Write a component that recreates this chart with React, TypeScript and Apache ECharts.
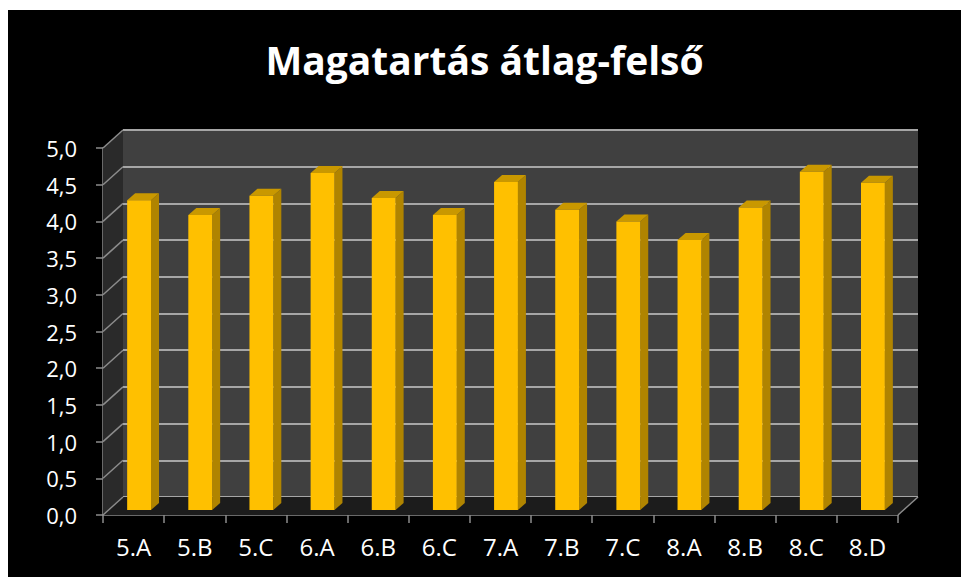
import React, { useEffect, useRef } from "react";
import * as echarts from "echarts";

const TITLE = "Magatartás átlag-felső";
const categories = ["5.A", "5.B", "5.C", "6.A", "6.B", "6.C", "7.A", "7.B", "7.C", "8.A", "8.B", "8.C", "8.D"];
const values = [4.22, 4.02, 4.28, 4.59, 4.25, 4.02, 4.47, 4.09, 3.93, 3.68, 4.12, 4.61, 4.46];
const yTicks = [0, 0.5, 1, 1.5, 2, 2.5, 3, 3.5, 4, 4.5, 5];

const Y_MIN = yTicks[0];
const Y_MAX = yTicks[yTicks.length - 1];
const Y_STEP = yTicks[1] - yTicks[0];

// 3D look parameters (pixels)
const DX = 20; // depth offset of back wall
const DY = -18;
const OX = 5.5; // bar front plane offset
const OY = -5;
const BDX = 8; // bar depth
const BDY = -7;
const BAR_RATIO = 0.39;

const FONT = "Open Sans";
const AXIS_COLOR = "#8c8c8c";

export default function App() {
  const ref = useRef<HTMLDivElement>(null);

  useEffect(() => {
    if (!ref.current) return;
    const chart = echarts.init(ref.current, undefined, { renderer: "svg" });

    const option: any = {
      animation: false,
      backgroundColor: "#000000",
      title: {
        text: TITLE,
        left: "center",
        top: 25,
        textStyle: { color: "#ffffff", fontSize: 39, fontWeight: "bold", fontFamily: FONT },
      },
      grid: [
        { left: 115, top: 120, width: 795, height: 367, show: true, backgroundColor: "#404040", borderWidth: 0 },
        { left: 95, top: 138, width: 795, height: 367 },
      ],
      xAxis: [
        { gridIndex: 0, type: "category", data: categories, show: false },
        {
          gridIndex: 1,
          type: "category",
          data: categories,
          axisLine: { show: true, lineStyle: { color: AXIS_COLOR, width: 1.5 } },
          axisTick: { show: true, length: 8, interval: 0, lineStyle: { color: AXIS_COLOR, width: 1.5 } },
          axisLabel: { color: "#ffffff", fontSize: 24, margin: 19, interval: 0, fontFamily: FONT },
          splitLine: { show: false },
        },
      ],
      yAxis: [
        {
          gridIndex: 0,
          type: "value",
          min: Y_MIN,
          max: Y_MAX,
          interval: Y_STEP,
          axisLine: { show: false },
          axisTick: { show: false },
          axisLabel: { show: false },
          splitLine: { show: true, lineStyle: { color: "#a6a6a6", width: 2 } },
        },
        {
          gridIndex: 1,
          type: "value",
          min: Y_MIN,
          max: Y_MAX,
          interval: Y_STEP,
          axisLine: { show: true, lineStyle: { color: AXIS_COLOR, width: 1.5 } },
          axisTick: { show: true, length: 7, lineStyle: { color: AXIS_COLOR, width: 1.5 } },
          axisLabel: {
            color: "#ffffff",
            fontSize: 22,
            margin: 26,
            fontFamily: FONT,
            formatter: (v: number) => v.toFixed(1).replace(".", ","),
          },
          splitLine: { show: false },
        },
      ],
      series: [
        {
          type: "custom",
          name: "walls",
          xAxisIndex: 1,
          yAxisIndex: 1,
          silent: true,
          z: 1,
          data: [[0, 0]],
          renderItem: (params: any, api: any) => {
            const cs = params.coordSys;
            const x0 = cs.x;
            const y0 = cs.y;
            const w = cs.width;
            const h = cs.height;
            const children: any[] = [
              {
                type: "polygon",
                shape: { points: [[x0, y0], [x0 + DX, y0 + DY], [x0 + DX, y0 + h + DY], [x0, y0 + h]] },
                style: { fill: "#2a2a2a" },
              },
              {
                type: "polygon",
                shape: { points: [[x0, y0 + h], [x0 + w, y0 + h], [x0 + w + DX, y0 + h + DY], [x0 + DX, y0 + h + DY]] },
                style: { fill: "#1c1c1c" },
              },
              {
                type: "line",
                shape: { x1: x0 + w, y1: y0 + h, x2: x0 + w + DX, y2: y0 + h + DY },
                style: { stroke: AXIS_COLOR, lineWidth: 1.5 },
              },
            ];
            yTicks.forEach((t) => {
              const yy = api.coord([0, t])[1];
              children.push({
                type: "line",
                shape: { x1: x0, y1: yy, x2: x0 + DX, y2: yy + DY },
                style: { stroke: AXIS_COLOR, lineWidth: 1.5 },
              });
            });
            return { type: "group", children };
          },
        },
        {
          type: "custom",
          name: "Magatartás",
          xAxisIndex: 1,
          yAxisIndex: 1,
          z: 3,
          encode: { x: 0, y: 1 },
          data: values.map((v, i) => [i, v]),
          renderItem: (params: any, api: any) => {
            const idx = api.value(0);
            const val = api.value(1);
            const top = api.coord([idx, val]);
            const bottom = api.coord([idx, 0]);
            const band = api.size([1, 0])[0];
            const bw = band * BAR_RATIO;
            const xl = top[0] + OX - bw / 2;
            const xr = top[0] + OX + bw / 2;
            const yt = top[1] + OY;
            const yb = bottom[1] + OY;
            return {
              type: "group",
              children: [
                {
                  type: "polygon",
                  shape: { points: [[xr, yt], [xr + BDX, yt + BDY], [xr + BDX, yb + BDY], [xr, yb]] },
                  style: { fill: "#b08400" },
                },
                {
                  type: "polygon",
                  shape: { points: [[xl, yt], [xr, yt], [xr + BDX, yt + BDY], [xl + BDX, yt + BDY]] },
                  style: { fill: "#c99800" },
                },
                {
                  type: "rect",
                  shape: { x: xl, y: yt, width: bw, height: yb - yt },
                  style: { fill: "#ffc000" },
                },
              ],
            };
          },
        },
      ],
    };

    chart.setOption(option);
    return () => chart.dispose();
  }, []);

  return (
    <div
      ref={ref}
      style={{ position: "fixed", left: 8, top: 10, width: 953, height: 567, background: "#000" }}
    />
  );
}
